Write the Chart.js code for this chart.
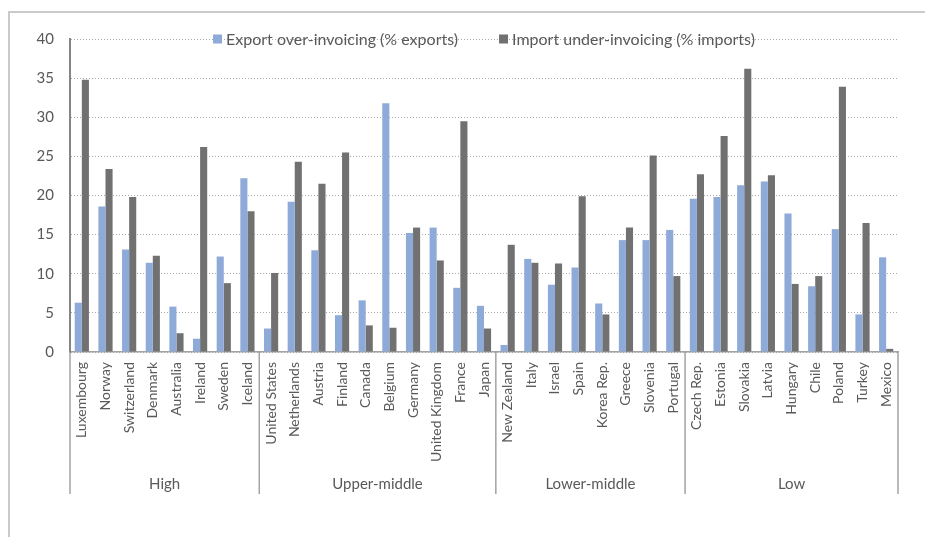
<!DOCTYPE html>
<html>
<head>
<meta charset="utf-8">
<title>Trade mis-invoicing by income group</title>
<script src="https://cdn.jsdelivr.net/npm/chart.js@4"></script>
<style>
  html, body { margin: 0; padding: 0; background: #fff; overflow: hidden; }
  #wrap { position: relative; width: 925px; height: 537px; }
  #frame {
    position: absolute; left: 8px; top: 11px; width: 940px; height: 560px;
    border-top: 2px solid #cacaca; border-left: 2px solid #cacaca;
  }
  #chart { position: absolute; left: 0; top: 0; }
</style>
</head>
<body>
<div id="wrap">
  <div id="frame"></div>
  <canvas id="chart" width="925" height="537"></canvas>
</div>
<script>
// Countries, ordered within their income groups
const categories = [
  'Luxembourg', 'Norway', 'Switzerland', 'Denmark', 'Australia', 'Ireland', 'Sweden', 'Iceland',
  'United States', 'Netherlands', 'Austria', 'Finland', 'Canada', 'Belgium', 'Germany', 'United Kingdom', 'France', 'Japan',
  'New Zealand', 'Italy', 'Israel', 'Spain', 'Korea Rep.', 'Greece', 'Slovenia', 'Portugal',
  'Czech Rep.', 'Estonia', 'Slovakia', 'Latvia', 'Hungary', 'Chile', 'Poland', 'Turkey', 'Mexico'
];

// Income groups and how many countries each spans
const groupNames = ['High', 'Upper-middle', 'Lower-middle', 'Low'];
const groupSizes = [8, 10, 8, 9];

// Export over-invoicing, % of exports
const exportOver = [
  6.3, 18.6, 13.1, 11.4, 5.8, 1.7, 12.2, 22.2,
  3.0, 19.2, 13.0, 4.7, 6.6, 31.8, 15.2, 15.9, 8.2, 5.9,
  0.9, 11.9, 8.6, 10.8, 6.2, 14.3, 14.3, 15.6,
  19.6, 19.8, 21.3, 21.8, 17.7, 8.4, 15.7, 4.8, 12.1
];

// Import under-invoicing, % of imports
const importUnder = [
  34.8, 23.4, 19.8, 12.3, 2.4, 26.2, 8.8, 18.0,
  10.1, 24.3, 21.5, 25.5, 3.4, 3.1, 15.9, 11.7, 29.5, 3.0,
  13.7, 11.4, 11.3, 19.9, 4.8, 15.9, 25.1, 9.7,
  22.7, 27.6, 36.2, 22.6, 8.7, 9.7, 33.9, 16.5, 0.4
];

// Value axis ticks
const yTicks = [0, 5, 10, 15, 20, 25, 30, 35, 40];

const seriesNames = ['Export over-invoicing (% exports)', 'Import under-invoicing (% imports)'];
const seriesColors = ['#8eaad8', '#717171'];

const TEXT = '#595959';
const FONT = 'Lato, "Open Sans", sans-serif';

// Legend drawn inside the plot, on the top gridline
const inlineLegend = {
  id: 'inlineLegend',
  afterDraw(chart) {
    const { ctx, chartArea } = chart;
    const y = chart.scales.y.getPixelForValue(yTicks[yTicks.length - 1]);
    ctx.save();
    ctx.font = '16px ' + FONT;
    ctx.textBaseline = 'middle';
    const box = 9, gapBox = 4, gapItem = 41;
    const widths = seriesNames.map(t => ctx.measureText(t).width);
    const total = widths.reduce((a, w) => a + box + gapBox + w, 0) + gapItem * (seriesNames.length - 1);
    let x = (chartArea.left + chartArea.right) / 2 - total / 2;
    seriesNames.forEach((name, i) => {
      ctx.fillStyle = seriesColors[i];
      ctx.fillRect(x, y - box / 2, box, box);
      x += box + gapBox;
      ctx.fillStyle = TEXT;
      ctx.fillText(name, x, y + 1);
      x += widths[i] + gapItem;
    });
    ctx.restore();
  }
};

// Second category level: income-group brackets under the country labels
const groupAxis = {
  id: 'groupAxis',
  afterDraw(chart) {
    const { ctx, chartArea } = chart;
    const xs = chart.scales.x;
    const top = chartArea.bottom;
    const bottom = top + 142;
    const edges = [chartArea.left];
    let idx = 0;
    groupSizes.forEach((n, g) => {
      idx += n;
      if (g < groupSizes.length - 1) {
        edges.push((xs.getPixelForValue(idx - 1) + xs.getPixelForValue(idx)) / 2);
      }
    });
    edges.push(chartArea.right);
    ctx.save();
    ctx.strokeStyle = '#a3a3a3';
    ctx.lineWidth = 1.5;
    edges.forEach(ex => {
      ctx.beginPath();
      ctx.moveTo(ex, top);
      ctx.lineTo(ex, bottom);
      ctx.stroke();
    });
    ctx.fillStyle = TEXT;
    ctx.font = '15px ' + FONT;
    ctx.textAlign = 'center';
    ctx.textBaseline = 'middle';
    groupNames.forEach((name, g) => {
      ctx.fillText(name, (edges[g] + edges[g + 1]) / 2, top + 132);
    });
    ctx.restore();
  }
};

new Chart(document.getElementById('chart'), {
  type: 'bar',
  data: {
    labels: categories,
    datasets: [
      { label: seriesNames[0], data: exportOver, backgroundColor: seriesColors[0], borderWidth: 0 },
      { label: seriesNames[1], data: importUnder, backgroundColor: seriesColors[1], borderWidth: 0 }
    ]
  },
  options: {
    responsive: false,
    animation: false,
    devicePixelRatio: 1,
    layout: { padding: { top: 39, right: 27, left: 0, bottom: 0 } },
    datasets: { bar: { categoryPercentage: 0.6, barPercentage: 1.0 } },
    plugins: {
      legend: { display: false },
      tooltip: { enabled: false }
    },
    scales: {
      x: {
        grid: { display: false, drawTicks: false },
        border: { display: true, color: '#a3a3a3', width: 1.5 },
        ticks: {
          autoSkip: false,
          maxRotation: 90,
          minRotation: 90,
          padding: 10,
          color: TEXT,
          font: { family: FONT, size: 14 }
        },
        afterFit(scale) { scale.height = 185; }
      },
      y: {
        min: 0,
        max: 40,
        afterBuildTicks(scale) { scale.ticks = yTicks.map(v => ({ value: v })); },
        grid: { color: '#a9a9a9', lineWidth: 1, drawTicks: false },
        border: { display: true, color: '#858585', width: 2, dash: [1, 2] },
        ticks: {
          padding: 16,
          color: TEXT,
          font: { family: FONT, size: 15 }
        },
        afterFit(scale) { scale.width = 70; }
      }
    }
  },
  plugins: [inlineLegend, groupAxis]
});
</script>
</body>
</html>
